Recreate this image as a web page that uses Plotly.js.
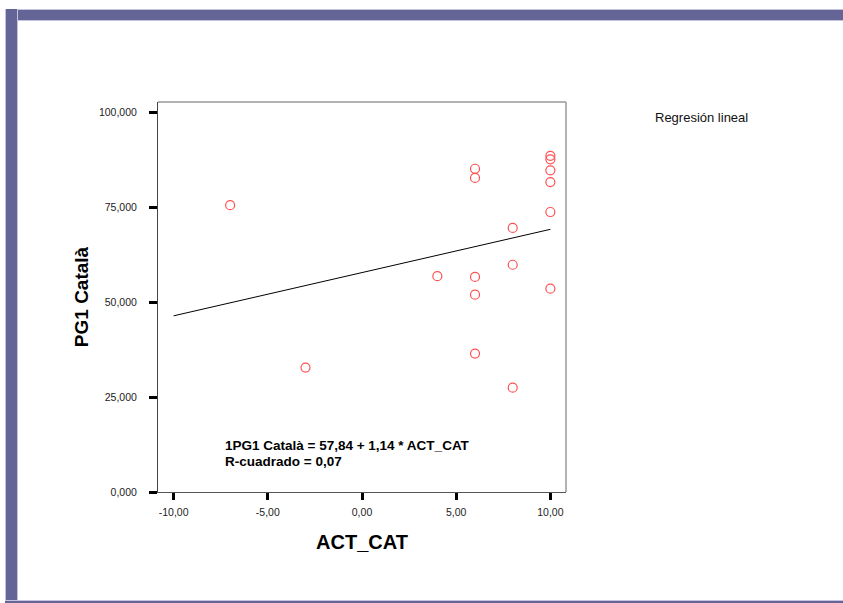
<!DOCTYPE html>
<html>
<head>
<meta charset="utf-8">
<script src="https://cdn.plot.ly/plotly-3.0.1.min.js"></script>
<style>
  html, body { margin:0; padding:0; background:#fff; width:843px; height:603px; overflow:hidden; }
  #chart { position:absolute; left:0; top:0; width:843px; height:603px; }
  .band { position:absolute; background:#646496; }
</style>
</head>
<body>
<div class="band" style="left:5px; top:9px; width:838px; height:10px; border-top:1px solid #c4c4e0; border-bottom:1px solid #c4c4e0;"></div>
<div class="band" style="left:5px; top:9px; width:11px; height:594px; border-left:1px solid #c4c4e0; border-right:1px solid #c4c4e0;"></div>
<div class="band" style="left:5px; top:600px; width:838px; height:2px; border-top:1px solid #c4c4e0;"></div>
<div id="chart"></div>
<script>
// Data
const actCat = [-7, -3, 4, 6, 6, 6, 6, 6, 8, 8, 8, 10, 10, 10, 10, 10, 10];
const pg1Catala = [75.6, 32.8, 56.9, 85.2, 82.8, 56.7, 52.0, 36.5, 69.6, 59.9, 27.5, 88.6, 87.7, 84.8, 81.7, 73.8, 53.6];
const fitX = [-10, 10];
const fitY = [46.44, 69.24];
const xTickVals = [-10, -5, 0, 5, 10];
const xTickText = ["-10,00", "-5,00", "0,00", "5,00", "10,00"];
const yTickVals = [0, 25, 50, 75, 100];
const yTickText = ["0,000", "25,000", "50,000", "75,000", "100,000"];
const eqLine1 = "1PG1 Català = 57,84 + 1,14 * ACT_CAT";
const eqLine2 = "R-cuadrado = 0,07";
const legendText = "Regresión lineal";

const tickFont = {family: "Liberation Sans, Arial, sans-serif", size: 10.5, color: "#222"};

const traces = [
  {
    x: fitX, y: fitY, type: "scatter", mode: "lines",
    line: {color: "#000", width: 1}, hoverinfo: "skip", showlegend: false
  },
  {
    x: actCat, y: pg1Catala, type: "scatter", mode: "markers",
    marker: {symbol: "circle-open", size: 9, color: "#ff5050", line: {width: 1.2, color: "#ff5050"}},
    showlegend: false
  }
];

const layout = {
  width: 843, height: 603,
  paper_bgcolor: "rgba(0,0,0,0)", plot_bgcolor: "#fff",
  margin: {l: 158, r: 277, t: 102, b: 111},
  showlegend: false,
  xaxis: {
    range: [-10.83, 10.83], tickvals: xTickVals, ticktext: xTickText,
    ticks: "outside", ticklen: 7, tickwidth: 3, tickcolor: "#000",
    showline: true, linecolor: "#555", linewidth: 1, showgrid: false, zeroline: false,
    tickfont: tickFont, ticklabelstandoff: 3,
    title: {text: "ACT_CAT", font: {family: "Liberation Sans, Arial, sans-serif", size: 20, color: "#000", weight: "bold"}, standoff: 18}
  },
  yaxis: {
    range: [0, 102.8], tickvals: yTickVals, ticktext: yTickText,
    ticks: "outside", ticklen: 8, tickwidth: 3, tickcolor: "#000",
    showline: true, linecolor: "#444", linewidth: 1, showgrid: false, zeroline: false,
    tickfont: tickFont, ticklabelstandoff: 10,
    title: {text: "PG1 Català", font: {family: "Liberation Sans, Arial, sans-serif", size: 19, color: "#000", weight: "bold"}, standoff: 5}
  },
  shapes: [
    {type: "line", xref: "paper", yref: "paper", x0: 0, x1: 1, y0: 1, y1: 1, line: {color: "#999", width: 1.5}},
    {type: "line", xref: "paper", yref: "paper", x0: 1, x1: 1, y0: 0, y1: 1, line: {color: "#999", width: 1.5}}
  ],
  annotations: [
    {text: eqLine1, xref: "paper", yref: "paper", x: 0.16, y: (492.3 - 446) / 390.6, xanchor: "left", yanchor: "middle", showarrow: false,
     font: {family: "Liberation Sans, Arial, sans-serif", size: 13.5, color: "#000", weight: "bold"}},
    {text: eqLine2, xref: "paper", yref: "paper", x: 0.16, y: (492.3 - 462) / 390.6, xanchor: "left", yanchor: "middle", showarrow: false,
     font: {family: "Liberation Sans, Arial, sans-serif", size: 13.5, color: "#000", weight: "bold"}},
    {text: legendText, xref: "paper", yref: "paper", x: (653 - 158) / 408, y: (492.3 - 117) / 390.6, xanchor: "left", yanchor: "middle", showarrow: false,
     font: {family: "Liberation Sans, Arial, sans-serif", size: 13, color: "#111"}}
  ]
};

Plotly.newPlot("chart", traces, layout, {staticPlot: true, displayModeBar: false});
</script>
</body>
</html>
